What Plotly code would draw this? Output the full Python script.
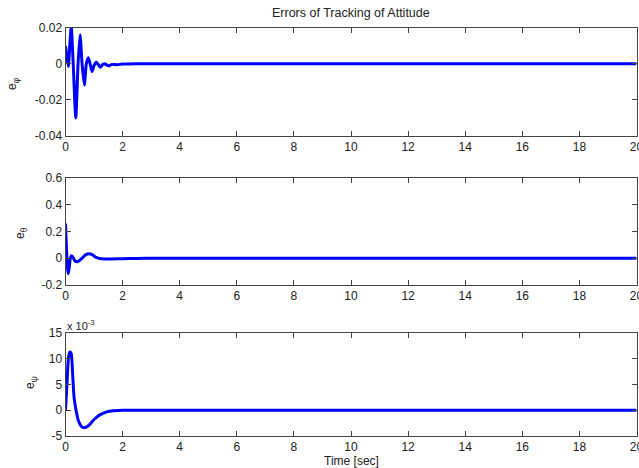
import plotly.graph_objects as go

# ---- data ----
t_phi = [0, 0.05, 0.1, 0.15, 0.2, 0.27, 0.36, 0.44, 0.51, 0.58, 0.66, 0.73, 0.8, 0.86,
         0.93, 1.0, 1.08, 1.15, 1.22, 1.3, 1.37, 1.45, 1.52, 1.6, 1.7, 1.8, 2.0, 2.5, 5, 10, 15, 20]
e_phi = [0.0098, 0.004, -0.0015, 0.01, 0.0205, 0.0, -0.030, 0.0, 0.016, 0.0, -0.0118, 0.0,
         0.0033, 0.0, -0.0044, -0.001, 0.0008, -0.0005, -0.002, -0.0005, 0.0, -0.0008,
         -0.0012, -0.0005, -0.0004, -0.0006, -0.0002, 0.0, 0.0, 0.0, 0.0, 0.0]

t_theta = [0, 0.02, 0.05, 0.08, 0.1, 0.13, 0.17, 0.21, 0.27, 0.33, 0.41, 0.5, 0.6, 0.7,
           0.83, 0.95, 1.05, 1.2, 1.5, 2.0, 2.5, 3, 5, 10, 15, 20]
e_theta = [0.26, 0.15, 0.0, -0.09, -0.115, -0.07, 0.0, 0.018, 0.005, -0.02, -0.026, -0.015,
           0.005, 0.025, 0.034, 0.025, 0.008, -0.002, -0.006, -0.003, -0.001, 0.0, 0.0, 0.0, 0.0, 0.0]

t_psi = [0, 0.05, 0.1, 0.15, 0.2, 0.25, 0.3, 0.37, 0.45, 0.55, 0.66, 0.8, 1.0, 1.2, 1.4,
         1.6, 2.0, 3, 5, 10, 15, 20]
e_psi_1e3 = [0, 5, 10, 11.3, 11.0, 7, 2.5, 0, -2, -3.1, -3.4, -3.0, -1.8, -0.9, -0.4,
             -0.15, 0, 0, 0, 0, 0, 0]

x_ticks = [0, 2, 4, 6, 8, 10, 12, 14, 16, 18, 20]
phi_ticks = [-0.04, -0.02, 0, 0.02]
phi_labels = ["-0.04", "-0.02", "0", "0.02"]
theta_ticks = [-0.2, 0, 0.2, 0.4, 0.6]
theta_labels = ["-0.2", "0", "0.2", "0.4", "0.6"]
psi_ticks = [-5, 0, 5, 10, 15]
psi_labels = ["-5", "0", "5", "10", "15"]

W, H = 639, 468
FONT = "Liberation Sans, Arial, Helvetica, sans-serif"
AX = "#444444"
TXT = "#222222"

def ydom(top, bot):
    return [1 - bot / H, 1 - top / H]

xdom = [65.5 / W, 636.5 / W]

fig = go.Figure()
line = dict(color="#0000FF", width=3, shape="spline", smoothing=0.6)
fig.add_trace(go.Scatter(x=t_phi, y=e_phi, mode="lines", line=line, xaxis="x", yaxis="y"))
fig.add_trace(go.Scatter(x=t_theta, y=e_theta, mode="lines", line=line, xaxis="x2", yaxis="y2"))
fig.add_trace(go.Scatter(x=t_psi, y=e_psi_1e3, mode="lines", line=line, xaxis="x3", yaxis="y3"))

xcommon = dict(range=[0, 20], tickvals=x_ticks, ticks="inside", ticklen=5, tickcolor=AX,
               showline=True, linecolor=AX, linewidth=1, mirror="ticks", showgrid=False,
               zeroline=False, domain=xdom, tickfont=dict(size=12, color=TXT, family=FONT),
               automargin=False, ticklabeloverflow="allow")
ycommon = dict(ticks="inside", ticklen=5, tickcolor=AX, showline=True, linecolor=AX,
               linewidth=1, mirror="ticks", showgrid=False, zeroline=False,
               tickfont=dict(size=12, color=TXT, family=FONT), automargin=False,
               ticklabeloverflow="allow")

fig.update_layout(
    width=W, height=H, margin=dict(l=0, r=0, t=0, b=0),
    paper_bgcolor="white", plot_bgcolor="white", showlegend=False,
    xaxis=dict(xcommon, anchor="y"),
    xaxis2=dict(xcommon, anchor="y2"),
    xaxis3=dict(xcommon, anchor="y3"),
    yaxis=dict(ycommon, anchor="x", domain=ydom(27.5, 136), range=[-0.04, 0.02],
               tickvals=phi_ticks, ticktext=phi_labels),
    yaxis2=dict(ycommon, anchor="x2", domain=ydom(178, 285), range=[-0.2, 0.6],
                tickvals=theta_ticks, ticktext=theta_labels),
    yaxis3=dict(ycommon, anchor="x3", domain=ydom(333, 436), range=[-5, 15],
                tickvals=psi_ticks, ticktext=psi_labels),
)

def ann(text, x, y, size=12, angle=0, xanchor="center", yanchor="middle"):
    fig.add_annotation(text=text, x=x / W, y=1 - y / H, xref="paper", yref="paper",
                       showarrow=False, textangle=angle, xanchor=xanchor, yanchor=yanchor,
                       font=dict(size=size, color=TXT, family=FONT))

ann("Errors of Tracking of Attitude", 351, 13, size=12.5)
ann("Time [sec]", 351, 461, size=12)
ann("e<sub>φ</sub>", 13, 84, angle=-90)
ann("e<sub>θ</sub>", 21, 233, angle=-90)
ann("e<sub>ψ</sub>", 31, 383, angle=-90)
ann("x 10<sup>-3</sup>", 65, 325, size=11, xanchor="left")

fig.write_html("out.html")
